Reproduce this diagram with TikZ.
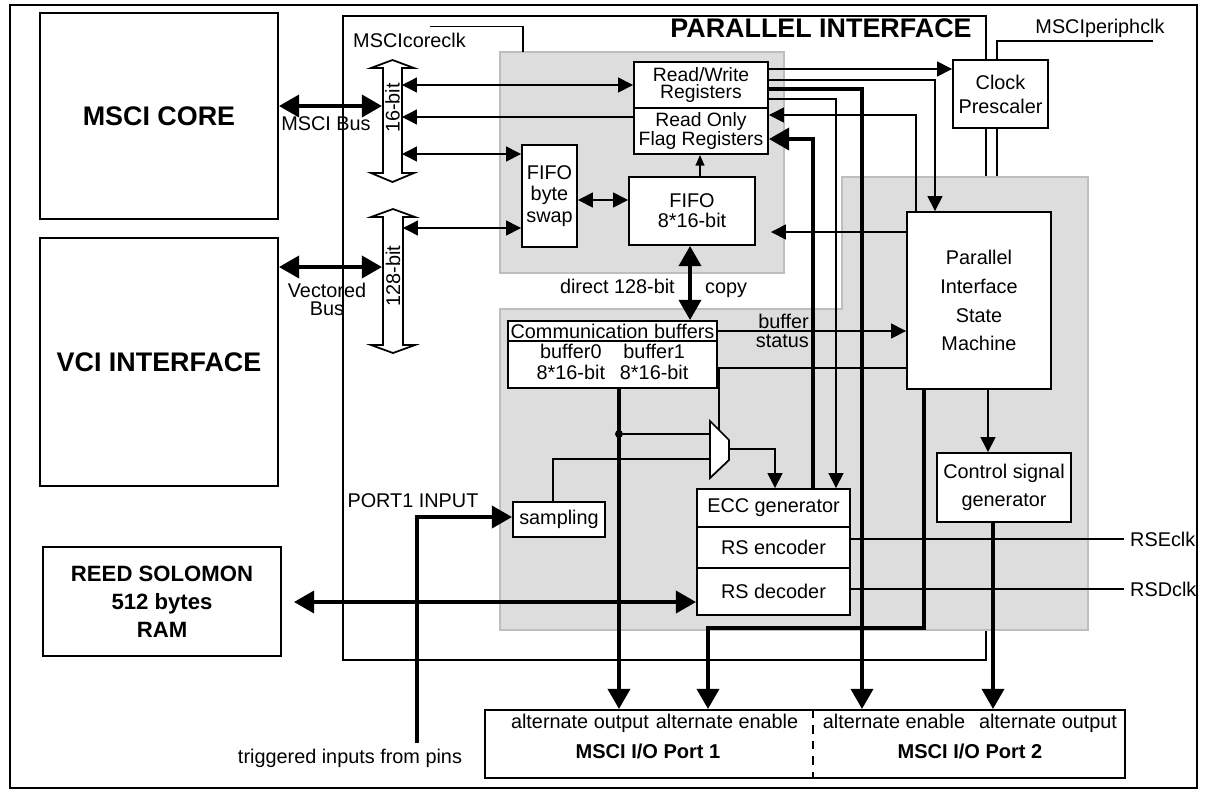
\documentclass[tikz,border=0pt]{standalone}
\usepackage{fontspec}
\setmainfont{Liberation Sans}
\usetikzlibrary{arrows.meta}
\definecolor{zonefill}{RGB}{221,221,221}
\definecolor{zoneline}{RGB}{190,190,190}

\begin{document}
\begin{tikzpicture}[x=0.02cm,y=-0.02cm,
    font=\fontsize{11.3}{13.6}\selectfont,
    blk/.style={draw,line width=1.1pt,fill=white,inner sep=1pt,align=center},
    bigtxt/.style={font=\fontsize{15.3}{18}\selectfont\bfseries},
    sig/.style={line width=0.85pt,>={Triangle[length=8.5pt,width=8.5pt]}},
    bus/.style={line width=2.3pt,>={Triangle[length=11.5pt,width=12.5pt]}},
    zone/.style={fill=zonefill,draw=zoneline,line width=0.9pt}]

        \useasboundingbox (0,0) rectangle (1207,796);

        % Marco exterior y bloque de interfaz paralela
        \draw[line width=1.1pt] (10,5) rectangle (1197,788);
        \draw[sig] (343,16) rectangle (986,660);
        \node[bigtxt] (pititle) at (821,28) {PARALLEL INTERFACE};
        \draw[sig] (1153,41) -| (997,177);

        % Zonas grises
        \draw[zone] (500,52) rectangle (784,273);
        \draw[zone] (500,309) -- (842,309) -- (842,177) -- (1088,177)
                    -- (1088,630) -- (500,630) -- cycle;

        % Bloques externos
        \node[blk,bigtxt,minimum width=4.76cm,minimum height=4.12cm] (core) at (159,116) {MSCI CORE};
        \node[blk,bigtxt,minimum width=4.76cm,minimum height=4.96cm] (vci) at (159,362) {VCI INTERFACE};
        \node[blk,font=\fontsize{12.6}{15.9}\selectfont\bfseries,minimum width=4.76cm,minimum height=2.18cm] (reed) at (162,601.5) {REED SOLOMON\\512 bytes\\RAM};

        % Buses 16-bit y 128-bit
        \draw[line width=1pt,fill=white] (383,173) -- (383,68) -- (371,68) -- (392.5,60) -- (414,68)
            -- (402,68) -- (402,173) -- (414,173) -- (392.5,182) -- (371,173) -- cycle;
        \node[rotate=90] (bus16) at (392.5,108) {16-bit};
        \draw[line width=1pt,fill=white] (383,345) -- (383,217) -- (371,217) -- (393,209) -- (415,217)
            -- (403,217) -- (403,345) -- (415,345) -- (393,353) -- (371,345) -- cycle;
        \node[rotate=90] (bus128) at (393,276) {128-bit};
        \coordinate (b16w) at (382,121);
        \coordinate (b16e) at (402,121);
        \coordinate (b128w) at (382,281);
        \coordinate (b128e) at (403,281);

        % Registros y FIFO
        \node[blk,font=\fontsize{11}{9.6}\selectfont,minimum width=2.68cm,minimum height=0.92cm] (rwreg) at (701,85) {Read/Write\\Registers};
        \node[blk,font=\fontsize{11}{9.4}\selectfont,minimum width=2.68cm,minimum height=0.92cm] (roreg) at (701,131) {Read Only\\Flag Registers};
        \node[blk,font=\fontsize{11.3}{12.2}\selectfont,minimum width=1.1cm,minimum height=2.04cm] (swap) at (549.5,196) {FIFO\\byte\\swap};
        \node[blk,font=\fontsize{11.3}{11.3}\selectfont,minimum width=2.52cm,minimum height=1.36cm] (fifo) at (692,211) {FIFO\\8*16-bit};
        \node[blk,font=\fontsize{11.3}{13.6}\selectfont,minimum width=1.9cm,minimum height=1.36cm] (clkpre) at (1000.5,94) {Clock\\Prescaler};

        % Maquina de estados y generador de control
        \node[blk,font=\fontsize{11.3}{16.4}\selectfont,minimum width=2.88cm,minimum height=3.54cm] (pism) at (979,300.5) {Parallel\\Interface\\State\\Machine};
        \node[blk,font=\fontsize{11.3}{15.9}\selectfont,minimum width=2.68cm,minimum height=1.38cm] (csg) at (1004,487.5) {Control signal\\generator};

        % Buffers de comunicacion
        \node[blk,inner sep=0pt,minimum width=4.18cm,minimum height=0.4cm] (cbtop) at (612.5,331) {Communication buffers};
        \node[blk,font=\fontsize{11.3}{11.9}\selectfont,minimum width=4.18cm,minimum height=0.94cm] (cbbot) at (612.5,364.5)
            {\begin{tabular}{@{}c@{\hspace{8.5pt}}c@{}}buffer0 & buffer1\\8*16-bit & 8*16-bit\end{tabular}};
        \node[blk,minimum width=1.84cm,minimum height=0.7cm] (sampling) at (559,519.5) {sampling};

        % ECC y Reed-Solomon
        \node[blk,minimum width=3.06cm,minimum height=0.76cm] (ecc) at (773.5,508) {ECC generator};
        \node[blk,minimum width=3.06cm,minimum height=0.82cm] (rsenc) at (773.5,547.5) {RS encoder};
        \node[blk,minimum width=3.06cm,minimum height=0.94cm] (rsdec) at (773.5,591.5) {RS decoder};

        % Multiplexor
        \draw[line width=1pt,fill=white] (710,421) -- (729,440) -- (729,460) -- (710,478) -- cycle;
        \coordinate (muxa) at (710,434);
        \coordinate (muxb) at (710,459);
        \coordinate (muxo) at (729,449);
        \coordinate (muxsel) at (719,430);
        \node[circle,fill,inner sep=0pt,minimum size=0.16cm] (tap) at (619,434) {};

        % Puertos de E/S
        \node[blk,minimum width=12.8cm,minimum height=1.36cm] (port) at (805,744) {};
        \draw[line width=1pt,dash pattern=on 5pt off 4pt] (port.north -| 813,0) -- (port.south -| 813,0);
        \node[anchor=base] (p1out) at (580,728) {alternate output};
        \node[anchor=base] (p1en) at (727,728) {alternate enable};
        \node[anchor=base] (p2en) at (894,728) {alternate enable};
        \node[anchor=base] (p2out) at (1048,728) {alternate output};
        \node[font=\fontsize{11.4}{13}\selectfont\bfseries] (p1name) at (648,751) {MSCI I/O Port 1};
        \node[font=\fontsize{11.4}{13}\selectfont\bfseries] (p2name) at (970,751) {MSCI I/O Port 2};
        \coordinate (po1) at (619,709);
        \coordinate (pe1) at (708,709);
        \coordinate (pe2) at (862,709);
        \coordinate (po2) at (993,709);

        % Etiquetas sueltas
        \node (coreclk) at (409.5,40) {MSCIcoreclk};
        \node (periphclk) at (1100,28) {MSCIperiphclk};
        \node (port1in) at (413,501) {PORT1 INPUT};
        \node (trig) at (350,758) {triggered inputs from pins};
        \node[anchor=west] (rseclk) at (1124,539) {RSEclk};
        \node[anchor=west] (rsdclk) at (1124,589) {RSDclk};
        \node (msbus) at (326,124) {MSCI Bus};
        \node[align=center,font=\fontsize{11.3}{10.2}\selectfont] (vbus) at (327,299) {Vectored\\Bus};
        \node[anchor=base east] (dcopy) at (681,293) {direct 128-bit};
        \node[anchor=base west] (copy) at (699,293) {copy};
        \node[anchor=east,align=right,font=\fontsize{11.3}{10.8}\selectfont] (bstat) at (815,331) {buffer\\status};

        % Relojes
        \draw[sig] (coreclk.north -| 430,0) -| (523,52);

        % Buses externos
        \draw[bus,<->] (core.east |- 0,106) -- (b16w |- 0,106);
        \draw[bus,<->] (vci.east |- 0,267) -- (b128w |- 0,267);
        \draw[bus,<->,shorten <=0.24cm] (reed.east |- 0,602) -- (rsdec.west |- 0,602);

        % Conexiones del bus interno
        \draw[sig,<->] (b16e |- rwreg.west) -- (rwreg.west);
        \draw[sig,->] (roreg.west |- 0,117) -- (b16e |- 0,117);
        \draw[sig,<->] (b16e |- 0,154) -- (swap.west |- 0,154);
        \draw[sig,<->] (b128e |- 0,228) -- (swap.west |- 0,228);
        \draw[sig,<->] (swap.east |- 0,200) -- (fifo.west |- 0,200);
        \draw[line width=0.85pt,->,>={Triangle[length=6pt,width=5pt]}] (fifo.north -| 700,0) -- (roreg.south -| 700,0);
        \draw[bus,<->] (fifo.south -| 690,0) -- (cbtop.north -| 690,0);

        % Salidas de los registros
        \draw[sig,->] (rwreg.east |- 0,69) -- (clkpre.west |- 0,69);
        \draw[sig,->] (rwreg.east |- 0,80) -| (pism.north -| 935,0);
        \draw[bus,->] (rwreg.east |- 0,89) -| (pe2);
        \draw[sig,->] (rwreg.east |- 0,99) -| (ecc.north -| 836,0);
        \draw[sig,->] (pism.north -| 916,0) |- (roreg.east |- 0,115);
        \draw[bus,->] (ecc.north -| 813,0) |- (roreg.east |- 0,139);
        \draw[sig,->,shorten >=0.3cm] (pism.west |- 0,232) -- (fifo.east |- 0,232);

        % Estado de buffers y multiplexor
        \draw[sig,->] (cbtop.east) -- (pism.west |- cbtop.east);
        \draw[sig] (pism.west |- 0,368) -| (muxsel);
        \draw[sig] (tap) -- (muxa);
        \draw[sig] (sampling.north -| 553,0) |- (muxb);
        \draw[sig,->] (muxo) -| (ecc.north -| 775,0);
        \draw[bus,->] (cbbot.south -| po1) -- (po1);
        \draw[bus,->] (trig.north -| 417,0) |- (sampling.west |- 0,517);

        % Control hacia los puertos
        \draw[bus,->] (pism.south -| 924,0) |- (pe1 |- 0,628) -- (pe1);
        \draw[sig,->] (pism.south -| 988,0) -- (csg.north -| 988,0);
        \draw[bus,->] (csg.south -| po2) -- (po2);

        % Relojes del codificador
        \draw[sig] (rsenc.east |- 0,539) -- (rseclk.west);
        \draw[sig] (rsdec.east |- 0,589) -- (rsdclk.west);

    \end{tikzpicture}
\end{document}
